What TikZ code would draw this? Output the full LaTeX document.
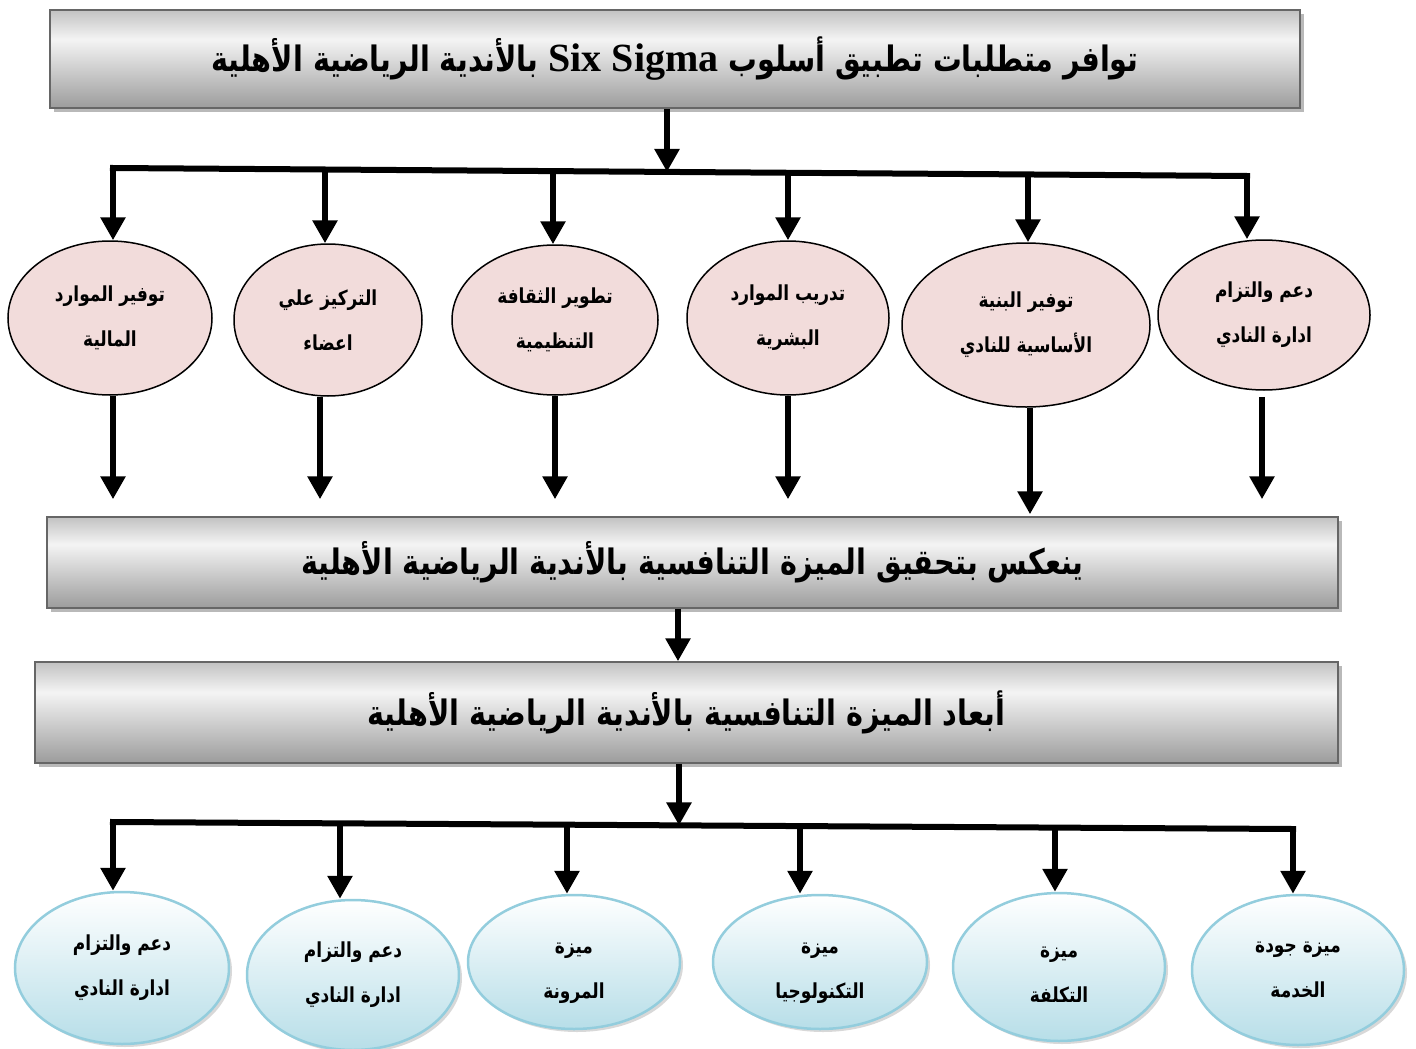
\documentclass[tikz,border=0pt]{standalone}
\usepackage{fontspec}
\usetikzlibrary{arrows.meta,shadows,shapes.geometric,calc}
\TeXXeTstate=1
\newfontfamily\arabicfont[Script=Arabic,FakeStretch=0.82]{DejaVu Sans}
\newfontfamily\latinfont{Liberation Serif}
\newcommand\artxt[1]{\beginR #1\endR}
\newcommand\lowstrut[1]{\rule{0pt}{#1}}
\definecolor{pinkfill}{HTML}{F2DCDB}
\definecolor{blueline}{HTML}{93CDDD}
\definecolor{bluebot}{HTML}{B7DEE8}
\definecolor{gT}{HTML}{C2C2C2}
\definecolor{gL}{HTML}{F4F4F4}
\definecolor{gB}{HTML}{9C9C9C}
\pgfdeclareverticalshading{boxshade}{100bp}{color(0bp)=(gB); color(25bp)=(gB); color(60bp)=(gL); color(75bp)=(gT); color(100bp)=(gT)}
\tikzset{
  boxst/.style={draw=gray!80!black, line width=1.5pt, shading=boxshade, inner sep=0pt,
    drop shadow={shadow xshift=4pt, shadow yshift=-4pt, fill=gray!55, opacity=1},
    font=\arabicfont\bfseries\fontsize{35}{40}\selectfont},
  pinkell/.style={ellipse, draw=black, line width=1.5pt, fill=pinkfill, inner sep=0pt, align=center,
    font=\arabicfont\bfseries\fontsize{20.7}{45}\selectfont},
  blueell/.style={ellipse, draw=blueline, line width=2.5pt, top color=white, bottom color=bluebot, inner sep=0pt, align=center,
    drop shadow={shadow xshift=3pt, shadow yshift=-3pt, fill=gray!60, opacity=0.5},
    font=\arabicfont\bfseries\fontsize{20.7}{45}\selectfont},
  arr/.style={line width=6pt, -{Triangle[length=23pt, width=24pt]}},
  bus/.style={line width=6pt, line cap=rect}
}
\begin{document}
\begin{tikzpicture}[x=1pt, y=-1pt]
\useasboundingbox (0,0) rectangle (1416,1049);
% boxes
\node[boxst, minimum width=1250pt, minimum height=98pt] (t) at (675,59)
  {\artxt{توافر متطلبات تطبيق أسلوب \beginL{\latinfont\bfseries\fontsize{40}{44}\selectfont Six Sigma}\endL{} بالأندية الرياضية الأهلية}};
\node[boxst, minimum width=1291pt, minimum height=91pt] (box2) at (692.5,562.5)
  {\artxt{ينعكس بتحقيق الميزة التنافسية بالأندية الرياضية الأهلية}};
\node[boxst, minimum width=1303pt, minimum height=101pt] (box3) at (686.5,712.5)
  {\artxt{أبعاد الميزة التنافسية بالأندية الرياضية الأهلية}};
% pink ellipses
\node[pinkell, minimum width=204pt, minimum height=154pt] (e1) at (110,318) {\artxt{توفير الموارد}\\\artxt{المالية}};
\node[pinkell, minimum width=188pt, minimum height=152pt] (e2) at (328,320) {\artxt{التركيز علي}\\\artxt{اعضاء}};
\node[pinkell, minimum width=206pt, minimum height=150pt] (e3) at (555,320) {\artxt{تطوير الثقافة}\\\artxt{التنظيمية}};
\node[pinkell, minimum width=202pt, minimum height=154pt] (e4) at (788,318) {\artxt{تدريب الموارد}\\\artxt{البشرية}};
\node[pinkell, minimum width=248pt, minimum height=164pt] (e5) at (1026,325) {\artxt{توفير البنية}\\\artxt{الأساسية للنادي}};
\node[pinkell, minimum width=212pt, minimum height=150pt] (e6) at (1264,315) {\artxt{دعم والتزام}\\\artxt{ادارة النادي}};
% blue ellipses
\node[blueell, minimum width=214pt, minimum height=152pt] (f1) at (122,968) {\artxt{دعم والتزام}\\\artxt{ادارة النادي}};
\node[blueell, minimum width=212pt, minimum height=150pt] (f2) at (353,975) {\artxt{دعم والتزام}\\\artxt{ادارة النادي}};
\node[blueell, minimum width=212pt, minimum height=134pt] (f3) at (574,962) {\lowstrut{34pt}\artxt{ميزة}\\\artxt{المرونة}};
\node[blueell, minimum width=214pt, minimum height=134pt] (f4) at (820,962) {\lowstrut{34pt}\artxt{ميزة}\\\artxt{التكنولوجيا}};
\node[blueell, minimum width=212pt, minimum height=148pt] (f5) at (1059,967) {\lowstrut{26pt}\artxt{ميزة}\\\artxt{التكلفة}};
\node[blueell, minimum width=212pt, minimum height=150pt] (f6) at (1298,970) {\artxt{ميزة جودة}\\\artxt{الخدمة}};
% top bus
\coordinate (b1) at (113,168);
\coordinate (b2) at (325,169.5);
\coordinate (b3) at (553,171.1);
\coordinate (b4) at (788,172.8);
\coordinate (b5) at (1028,174.5);
\coordinate (b6) at (1247,176);
\coordinate (bt) at (667,171.9);
\draw[arr] (t.south -| bt) -- (bt);
\draw[bus] (b1) -- (b6);
\foreach \i in {1,...,6} { \draw[arr] (b\i) -- (b\i |- e\i.north); }
% down to box2
\draw[arr, shorten >=17pt] ([xshift=3pt]e1.south) -- ([xshift=3pt]e1.south |- box2.north);
\draw[arr, shorten >=17pt] ([xshift=-8pt]e2.south) -- ([xshift=-8pt]e2.south |- box2.north);
\draw[arr, shorten >=17pt] (e3.south) -- (e3.south |- box2.north);
\draw[arr, shorten >=17pt] (e4.south) -- (e4.south |- box2.north);
\draw[arr, shorten >=2pt] ([xshift=4pt]e5.south) -- ([xshift=4pt]e5.south |- box2.north);
\draw[arr, shorten >=17pt] ([xshift=-2pt,yshift=-6pt]e6.south) -- ([xshift=-2pt]e6.south |- box2.north);
% box2 to box3
\coordinate (c2) at (678,635);
\draw[arr] (box2.south -| c2) -- (box3.north -| c2);
% bottom bus
\coordinate (d1) at (113,822);
\coordinate (d2) at (340,823.3);
\coordinate (d3) at (567,824.7);
\coordinate (d4) at (800,826.1);
\coordinate (d5) at (1055,827.6);
\coordinate (d6) at (1293,829);
\coordinate (dt) at (679,825.4);
\draw[arr] (box3.south -| dt) -- (dt);
\draw[bus] (d1) -- (d6);
\foreach \i in {1,...,6} { \draw[arr] (d\i) -- (d\i |- f\i.north); }
\end{tikzpicture}
\end{document}
